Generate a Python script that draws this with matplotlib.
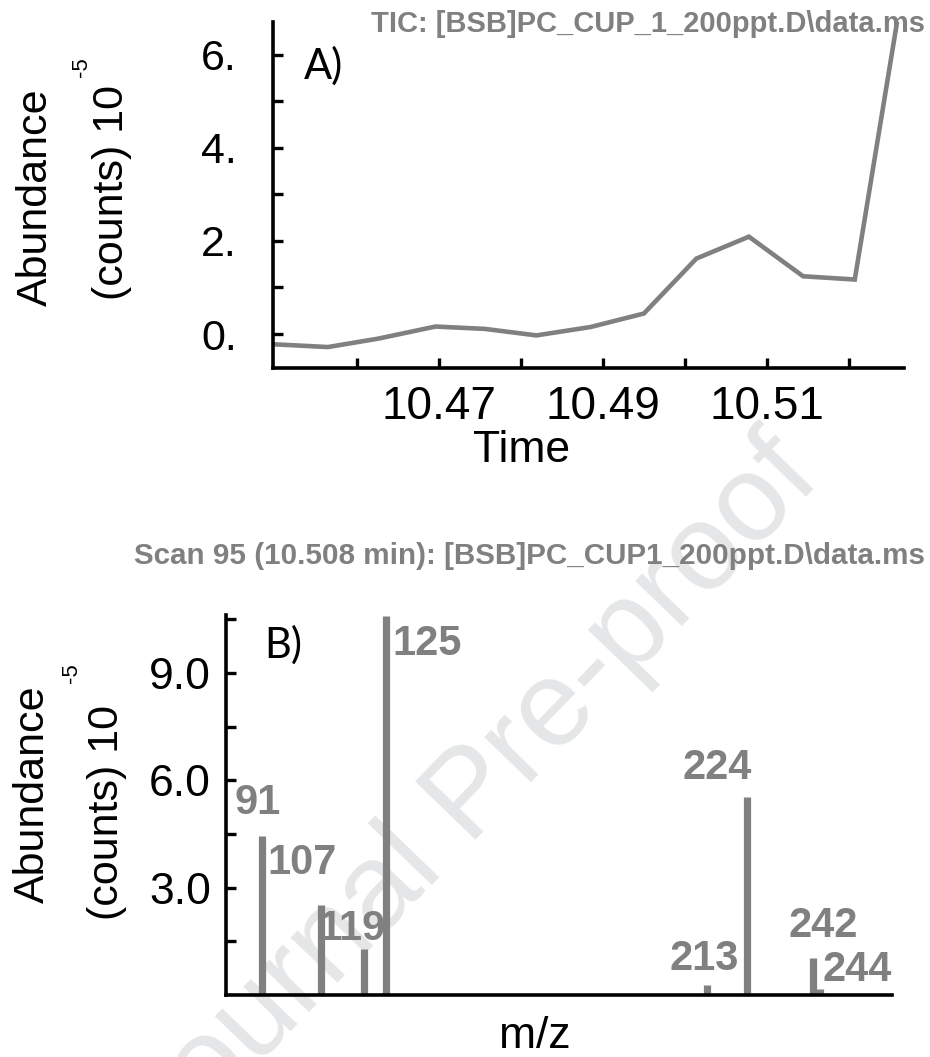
import numpy as np
import matplotlib
matplotlib.use("Agg")
import matplotlib.pyplot as plt
from matplotlib.ticker import FixedLocator, NullFormatter

# TIC trace around the peak (abundance in units of 1e5 counts)
tic_time = [10.4498, 10.4565, 10.4626, 10.4696, 10.4756, 10.4819, 10.4885,
            10.4950, 10.5014, 10.5078, 10.5144, 10.5207, 10.5266]
tic_abund = [-0.22, -0.28, -0.10, 0.16, 0.11, -0.03, 0.15,
             0.44, 1.62, 2.09, 1.24, 1.17, 7.5]
tic_major = [10.47, 10.49, 10.51]
tic_minor = [10.46, 10.48, 10.50, 10.52]

# mass spectrum of scan 95
mz = [91, 107, 119, 125, 213, 224, 242, 244]
ms_abund = [4.45, 2.52, 1.29, 10.6, 0.28, 5.52, 1.04, 0.17]
# label placement next to each peak (pixels from the peak top)
label_dx = [-5, -18, -12, 41, -3, -30, 10, 37]
label_dy = [33, 42, 20, -28, 26, 29, 32, 19]

W, H = 930, 1057
GREY = "#808080"
plt.rcParams["font.family"] = ["Liberation Sans", "DejaVu Sans"]


def fx(x):
    return x / W


def fy(y):
    return 1 - y / H


def style_axes(ax, pad):
    for side in ("top", "right"):
        ax.spines[side].set_visible(False)
    for side in ("left", "bottom"):
        ax.spines[side].set_linewidth(2.6)
    ax.tick_params(which="both", direction="in", length=7, width=2.4,
                   labelsize=32, pad=pad)
    ax.set_facecolor("none")


fig = plt.figure(figsize=(W / 100, H / 100), dpi=100)

# watermark behind both panels
fig.text(fx(472), fy(798), "Journal Pre-proof", fontsize=88, color="#e5e6e7",
         rotation=46, ha="center", va="center", zorder=-1)

# ---- A) total ion chromatogram ----
ax1 = fig.add_axes([fx(273), fy(368), (904 - 273) / W, (368 - 22) / H])
ax1.plot(tic_time, tic_abund, color=GREY, lw=3.3, solid_joinstyle="miter")
ax1.set_xlim(10.4498, 10.5267)
ax1.set_ylim(-0.73, 6.7)
ax1.xaxis.set_major_locator(FixedLocator(tic_major))
ax1.xaxis.set_minor_locator(FixedLocator(tic_minor))
ax1.xaxis.set_minor_formatter(NullFormatter())
ax1.set_xticklabels([f"{t:.2f}" for t in tic_major])
ax1.yaxis.set_major_locator(FixedLocator([0, 2, 4, 6]))
ax1.yaxis.set_minor_locator(FixedLocator([1, 3, 5]))
ax1.set_yticklabels(["0.", "2.", "4.", "6."])
style_axes(ax1, 0)
ax1.tick_params(axis="y", which="both", pad=26, labelsize=31)
ax1.tick_params(axis="x", which="both", pad=12, labelsize=33)

fig.text(fx(925), fy(24), r"TIC: [BSB]PC_CUP_1_200ppt.D\data.ms", ha="right",
         va="center", fontsize=21, fontweight="bold", color=GREY)
fig.text(fx(323), fy(66), "A)", fontsize=30, family="Lato", ha="center",
         va="center")
fig.text(fx(522), fy(450), "Time", fontsize=32, ha="center", va="center")
fig.text(fx(36), fy(197), "Abundance", fontsize=31, rotation=90,
         ha="center", va="center")
fig.text(fx(112), fy(193), "(counts) 10", fontsize=31, rotation=90,
         ha="center", va="center")
fig.text(fx(82), fy(67), "-5", fontsize=16, rotation=90,
         ha="center", va="center")

# ---- B) mass spectrum ----
ax2 = fig.add_axes([fx(226), fy(995), (892 - 226) / W, (995 - 615) / H])
ax2.vlines(mz, 0, ms_abund, color=GREY, lw=5.2)
for m, a, dx, dy in zip(mz, ms_abund, label_dx, label_dy):
    ax2.annotate(str(m), xy=(m, a), xytext=(dx, dy), textcoords="offset pixels",
                 ha="center", va="center", fontsize=30, fontweight="bold",
                 color=GREY)
ax2.set_xlim(81.1, 263.6)
ax2.set_ylim(0, 10.62)
ax2.set_xticks([])
ax2.yaxis.set_major_locator(FixedLocator([3, 6, 9]))
ax2.yaxis.set_minor_locator(FixedLocator([1.5, 4.5, 7.5, 10.5]))
ax2.set_yticklabels(["3.0", "6.0", "9.0"])
style_axes(ax2, 11)

fig.text(fx(925), fy(556), r"Scan 95 (10.508 min): [BSB]PC_CUP1_200ppt.D\data.ms",
         ha="right", va="center", fontsize=21.3, fontweight="bold", color=GREY)
fig.text(fx(283), fy(645), "B)", fontsize=30, family="Lato", ha="center",
         va="center")
fig.text(fx(535), fy(1036), "m/z", fontsize=32, ha="center", va="center")
fig.text(fx(33), fy(794), "Abundance", fontsize=31, rotation=90,
         ha="center", va="center")
fig.text(fx(107), fy(812), "(counts) 10", fontsize=31, rotation=90,
         ha="center", va="center")
fig.text(fx(71), fy(673), "-5", fontsize=16, rotation=90,
         ha="center", va="center")

fig.savefig("out.png", dpi=100)
